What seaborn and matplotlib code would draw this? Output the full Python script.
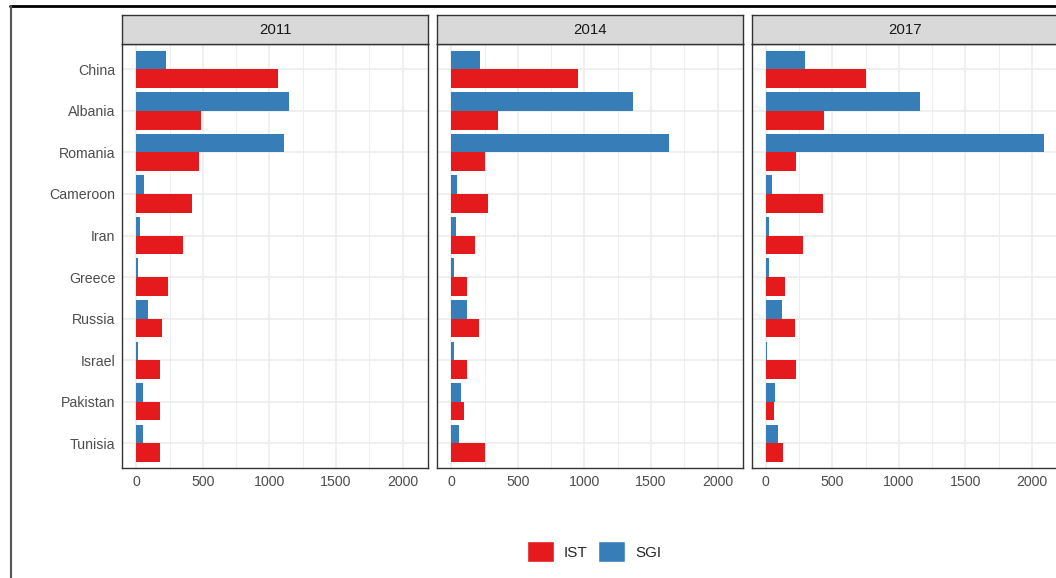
import matplotlib
matplotlib.use("Agg")
import matplotlib.pyplot as plt
from matplotlib.lines import Line2D
from matplotlib.patches import Patch
import seaborn as sns
import pandas as pd

# ---- data -------------------------------------------------------------
countries = ["China", "Albania", "Romania", "Cameroon", "Iran",
             "Greece", "Russia", "Israel", "Pakistan", "Tunisia"]
years = ["2011", "2014", "2017"]

ist_2011 = [1061, 487, 474, 419, 354, 242, 197, 182, 182, 182]
sgi_2011 = [221, 1148, 1111, 62, 25, 10, 85, 10, 50, 50]
ist_2014 = [950, 350, 253, 275, 178, 118, 205, 118, 93, 253]
sgi_2014 = [215, 1363, 1635, 45, 33, 20, 118, 20, 70, 58]
ist_2017 = [755, 438, 230, 428, 283, 145, 220, 230, 60, 133]
sgi_2017 = [293, 1160, 2088, 48, 23, 23, 123, 10, 73, 95]

x_breaks = [0, 500, 1000, 1500, 2000]
x_minor = [250, 750, 1250, 1750]

series = {
    ("2011", "IST"): ist_2011, ("2011", "SGI"): sgi_2011,
    ("2014", "IST"): ist_2014, ("2014", "SGI"): sgi_2014,
    ("2017", "IST"): ist_2017, ("2017", "SGI"): sgi_2017,
}
rows = []
for (yr, src), vals in series.items():
    for c, v in zip(countries, vals):
        rows.append({"year": yr, "source": src, "country": c, "value": v})
df = pd.DataFrame(rows)

palette = {"IST": "#E41A1C", "SGI": "#377EB8"}

# ---- figure -----------------------------------------------------------
sns.set_theme(style="white")
plt.rcParams["font.family"] = ["Liberation Sans", "DejaVu Sans"]

W, H = 1056, 578
fig = plt.figure(figsize=(W / 100, H / 100), dpi=100)
fig.patch.set_facecolor("white")


def px_axes(x0, y0, x1, y1):
    return fig.add_axes([x0 / W, 1 - y1 / H, (x1 - x0) / W, (y1 - y0) / H])


panel_left = [122.3, 437.3, 751.7]
panel_w = 306.0
strip_top, panel_top, panel_bot = 15.0, 44.3, 468.3

vmax = df["value"].max()
xpad = 0.05 * vmax
border = "#333333"

for i, yr in enumerate(years):
    x0 = panel_left[i]
    ax = px_axes(x0, panel_top, x0 + panel_w, panel_bot)
    sub = df[df["year"] == yr]
    sns.barplot(data=sub, x="value", y="country", hue="source",
                hue_order=["SGI", "IST"], order=countries, palette=palette,
                orient="h", width=0.9, saturation=1, errorbar=None,
                legend=False, linewidth=0, ax=ax)
    ax.set_xlim(-xpad, vmax + xpad)
    ax.set_ylim(len(countries) - 0.4, -0.6)
    ax.set_xticks(x_breaks)
    ax.set_xticks(x_minor, minor=True)
    ax.set_axisbelow(True)
    ax.grid(which="major", color="#EBEBEB", lw=1.1)
    ax.grid(which="minor", axis="x", color="#EBEBEB", lw=0.6)
    ax.set_xlabel("")
    ax.set_ylabel("")
    for s in ax.spines.values():
        s.set_color(border)
        s.set_linewidth(1.0)
    ax.tick_params(axis="x", which="major", length=3, width=0.8, color=border,
                   labelsize=10.2, labelcolor="#4D4D4D", pad=2)
    ax.tick_params(axis="both", which="minor", length=0)
    if i == 0:
        ax.tick_params(axis="y", length=3, width=0.8, color=border,
                       labelsize=10.2, labelcolor="#4D4D4D", pad=2)
    else:
        ax.tick_params(axis="y", length=0, labelleft=False)

    # facet strip
    st = px_axes(x0, strip_top, x0 + panel_w, panel_top)
    st.set_facecolor("#D9D9D9")
    st.set_xticks([])
    st.set_yticks([])
    for s in st.spines.values():
        s.set_color(border)
        s.set_linewidth(1.0)
    st.text(0.5, 0.5, yr, ha="center", va="center", fontsize=10.8,
            color="#1A1A1A", transform=st.transAxes)

# legend
handles = [Patch(facecolor=palette["IST"], label="IST"),
           Patch(facecolor=palette["SGI"], label="SGI")]
fig.legend(handles=handles, loc="center",
           bbox_to_anchor=(594 / W, 1 - 551.6 / H),
           ncol=2, frameon=False, fontsize=11, handlelength=1.77,
           handleheight=1.77, handletextpad=0.65, columnspacing=0.7)

# surrounding frame lines
fig.add_artist(Line2D([10 / W, 1], [1 - 5.7 / H, 1 - 5.7 / H],
                      transform=fig.transFigure, color="black", lw=2))
fig.add_artist(Line2D([11 / W, 11 / W], [1 - 5.7 / H, 0],
                      transform=fig.transFigure, color="#555555", lw=1.5))

fig.savefig("out.png", dpi=100)
